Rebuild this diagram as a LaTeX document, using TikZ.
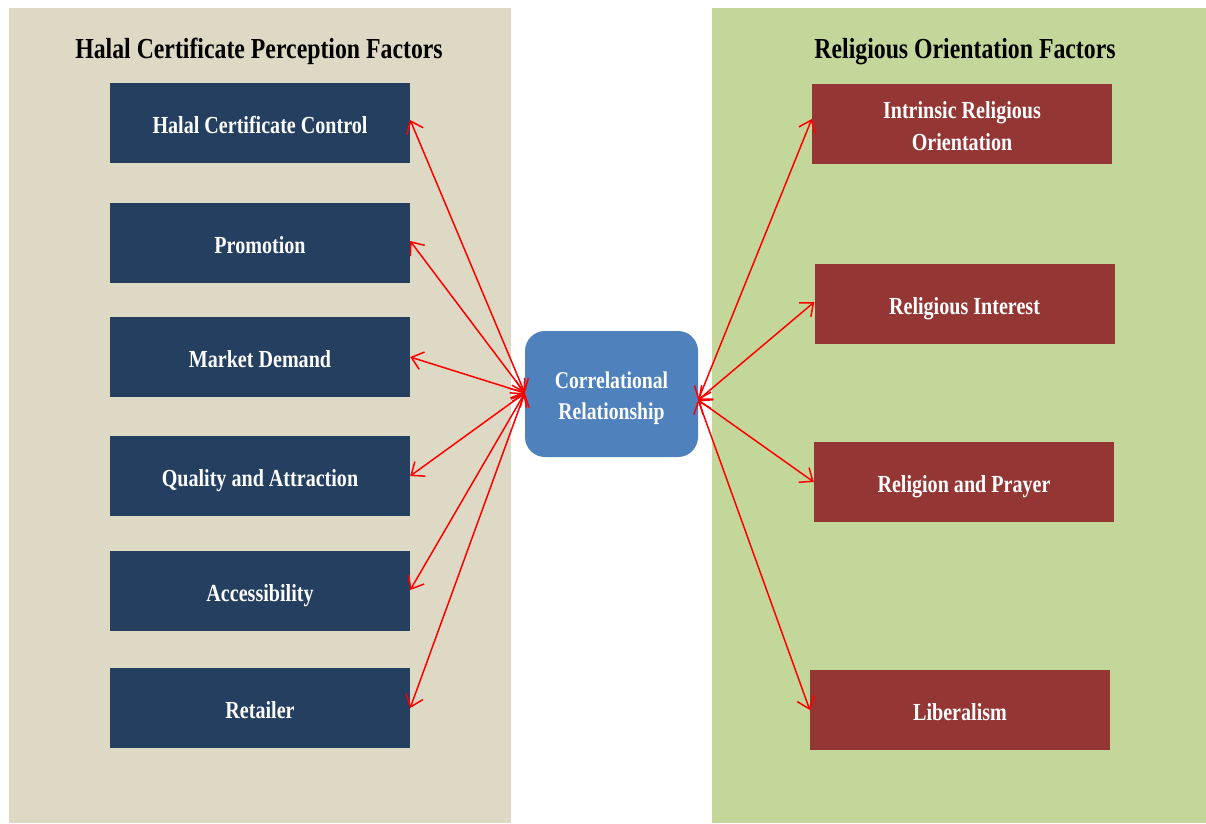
\documentclass[tikz,border=0pt]{standalone}
\usepackage{fontspec}
\setmainfont{Liberation Serif}[FakeStretch=0.82]
\usetikzlibrary{arrows.meta}
\definecolor{leftpanel}{HTML}{DDD9C4}
\definecolor{rightpanel}{HTML}{C4D79B}
\definecolor{navy}{HTML}{243F60}
\definecolor{brick}{HTML}{943634}
\definecolor{midblue}{HTML}{4F81BD}
\tikzset{
  x=1pt, y=-1pt,
  boxbase/.style={text=white, minimum width=300pt, minimum height=80pt, inner sep=0pt, font=\bfseries\fontsize{24.5}{32}\selectfont},
  leftbox/.style={boxbase, fill=navy, text height=21pt, text depth=0pt},
  rightbox/.style={boxbase, fill=brick, text height=21pt, text depth=0pt},
  rightbox2/.style={boxbase, fill=brick, align=center},
  centerbox/.style={fill=midblue, text=white, rounded corners=20pt, minimum width=173pt, minimum height=126pt, inner sep=0pt, font=\bfseries\fontsize{24}{31}\selectfont, align=center},
  title/.style={font=\bfseries\fontsize{29}{32}\selectfont, text=black, text height=22pt, text depth=0pt, inner sep=0pt},
  link/.style={draw=red, line width=1.5pt, {Straight Barb[length=11pt,width=18pt]}-{Straight Barb[length=11pt,width=18pt]}},
}
\begin{document}
\begin{tikzpicture}
\useasboundingbox (0,0) rectangle (1206,823);
\fill[leftpanel] (9,8) rectangle (511,823);
\fill[rightpanel] (712,8) rectangle (1206,823);
\node[title] (tl) at (259,47) {Halal Certificate Perception Factors};
\node[title] (tr) at (965,47) {Religious Orientation Factors};
\node[leftbox] (l1) at (260,123) {Halal Certificate Control};
\node[leftbox] (l2) at (260,243) {Promotion};
\node[leftbox] (l3) at (260,357) {Market Demand};
\node[leftbox] (l4) at (260,476) {Quality and Attraction};
\node[leftbox] (l5) at (260,591) {Accessibility};
\node[leftbox] (l6) at (260,708) {Retailer};
\node[centerbox] (c) at (611.5,394) {\rule{0pt}{26pt}Correlational\\Relationship};
\node[rightbox2] (r1) at (962,124) {\rule{0pt}{21pt}Intrinsic Religious\\Orientation};
\node[rightbox] (r2) at (964.5,304) {Religious Interest};
\node[rightbox] (r3) at (964,482) {Religion and Prayer};
\node[rightbox] (r4) at (960,710) {Liberalism};
\coordinate (cw) at ([yshift=1pt]c.west);
\coordinate (ce) at ([yshift=-6pt]c.east);
\draw[link] ([yshift=3pt]l1.east) -- (cw);
\draw[link] ([yshift=2pt]l2.east) -- (cw);
\draw[link] (l3.east) -- (cw);
\draw[link] (l4.east) -- (cw);
\draw[link] ([yshift=1pt]l5.east) -- (cw);
\draw[link] (l6.east) -- (cw);
\draw[link] (ce) -- ([yshift=5pt]r1.west);
\draw[link] (ce) -- ([yshift=2pt]r2.west);
\draw[link] (ce) -- (r3.west);
\draw[link] (ce) -- (r4.west);
\end{tikzpicture}
\end{document}
